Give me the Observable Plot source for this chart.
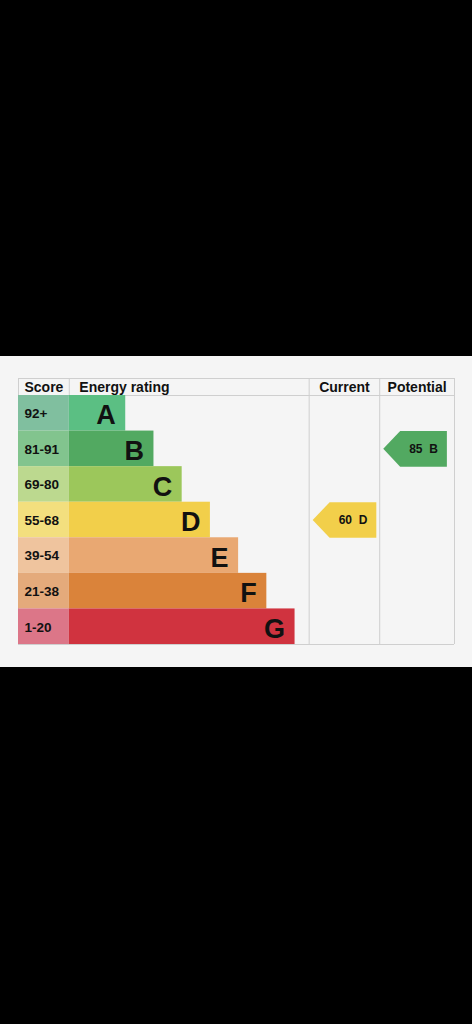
<!DOCTYPE html>
<html>
<head>
<meta charset="utf-8">
<script src="https://cdn.jsdelivr.net/npm/d3@7"></script>
<script src="https://cdn.jsdelivr.net/npm/@observablehq/plot@0.6"></script>
<style>
  html, body { margin: 0; padding: 0; background: #000; width: 472px; height: 1024px; overflow: hidden; }
  #panel { position: absolute; left: 0; top: 356px; width: 472px; height: 311px; background: #f5f5f5; }
</style>
</head>
<body>
<div id="panel"></div>
<script>
// ---- data ----
const bands = ["A", "B", "C", "D", "E", "F", "G"];
const scoreRanges = ["92+", "81-91", "69-80", "55-68", "39-54", "21-38", "1-20"];
const barLengths = [2, 3, 4, 5, 6, 7, 8];
const barColors = ["#5bbf83", "#52a961", "#9cc75b", "#f2cf4a", "#e9a872", "#da833a", "#d0333f"];
const scoreColors = ["#80bf9f", "#82c48e", "#bcd98f", "#f3df7e", "#efc49e", "#e4aa7b", "#dc7688"];
const headers = ["Score", "Energy rating", "Current", "Potential"];
const ratingColumns = ["Current", "Potential"];
const ratingScores = [60, 85];
const ratingBands = ["D", "B"];

// ---- layout in scale units ----
const xLeft = -1.8, xBar = 0, xCur = 8.5, xPot = 11, xRight = 13.65;
const yHead = -0.478, yBottom = bands.length;
const colStart = {Current: xCur, Potential: xPot};

const rows = bands.map((b, i) => ({
  band: b, i, range: scoreRanges[i], len: barLengths[i],
  color: barColors[i], scoreColor: scoreColors[i]
}));

const centerHeaders = [
  {text: headers[2], x: (xCur + xPot) / 2},
  {text: headers[3], x: (xPot + xRight) / 2}
];

// arrows
const arrows = ratingColumns.map((c, k) => {
  const i = bands.indexOf(ratingBands[k]);
  const tip = colStart[c] + 0.125;
  const right = colStart[c] + 2.38;
  const head = tip + 0.6;
  return {
    id: c, i, tip, right, head,
    color: barColors[i],
    label: ratingScores[k] + "\u00a0\u00a0" + ratingBands[k],
    pts: [
      {x: tip, y: i + 0.5}, {x: head, y: i}, {x: right, y: i},
      {x: right, y: i + 1}, {x: head, y: i + 1}
    ]
  };
});
const arrowPts = arrows.flatMap(a => a.pts.map(p => ({...p, id: a.id, color: a.color})));

const gridColor = "#cfcfcf";
const font = "'Liberation Sans', Arial, Helvetica, sans-serif";
const headStyle = {fontSize: 14, fontWeight: "bold", fill: "#111", dy: 0.5};

const chart = Plot.plot({
  width: 472,
  height: 311,
  marginTop: 22,
  marginBottom: 23,
  marginLeft: 18,
  marginRight: 18,
  style: {background: "transparent", fontFamily: font, color: "#111"},
  x: {domain: [xLeft, xRight], axis: null},
  y: {domain: [yHead, yBottom], reverse: true, axis: null},
  marks: [
    // grid
    Plot.ruleY([yHead, 0, yBottom], {x1: xLeft, x2: xRight, stroke: gridColor, strokeWidth: 1}),
    Plot.ruleX([xLeft, xRight, xCur, xPot], {y1: yHead, y2: yBottom, stroke: gridColor, strokeWidth: 1}),
    Plot.ruleX([xBar], {y1: yHead, y2: 0, stroke: gridColor, strokeWidth: 1}),
    // score cells
    Plot.rect(rows, {x1: () => xLeft, x2: () => xBar, y1: "i", y2: d => d.i + 1, fill: "scoreColor"}),
    // bars
    Plot.rect(rows, {x1: () => xBar, x2: "len", y1: "i", y2: d => d.i + 1, fill: "color"}),
    // score labels
    Plot.text(rows, {x: () => xLeft, y: d => d.i + 0.5, text: "range", textAnchor: "start", dx: 6, dy: 0.5,
      fontSize: 13.5, fontWeight: "bold", fill: "#111"}),
    // band letters
    Plot.text(rows, {x: "len", y: d => d.i + 0.5, text: "band", textAnchor: "end", dx: -10, dy: 2.5,
      fontSize: 27, fontWeight: "bold", fill: "#111"}),
    // headers
    Plot.text([headers[0]], {x: () => xLeft, y: () => yHead / 2, text: d => d, textAnchor: "start", dx: 6, ...headStyle}),
    Plot.text([headers[1]], {x: () => xBar, y: () => yHead / 2, text: d => d, textAnchor: "start", dx: 10, ...headStyle}),
    Plot.text(centerHeaders, {x: "x", y: () => yHead / 2, text: "text", textAnchor: "middle", ...headStyle}),
    // arrows
    Plot.line(arrowPts, {x: "x", y: "y", z: "id", fill: "color", stroke: "none", curve: "linear-closed"}),
    Plot.text(arrows, {x: d => (d.head + d.right) / 2, y: d => d.i + 0.5, text: "label", dy: 0.5,
      fontSize: 12, fontWeight: "bold", fill: "#111"})
  ]
});

document.getElementById("panel").appendChild(chart);
</script>
</body>
</html>
